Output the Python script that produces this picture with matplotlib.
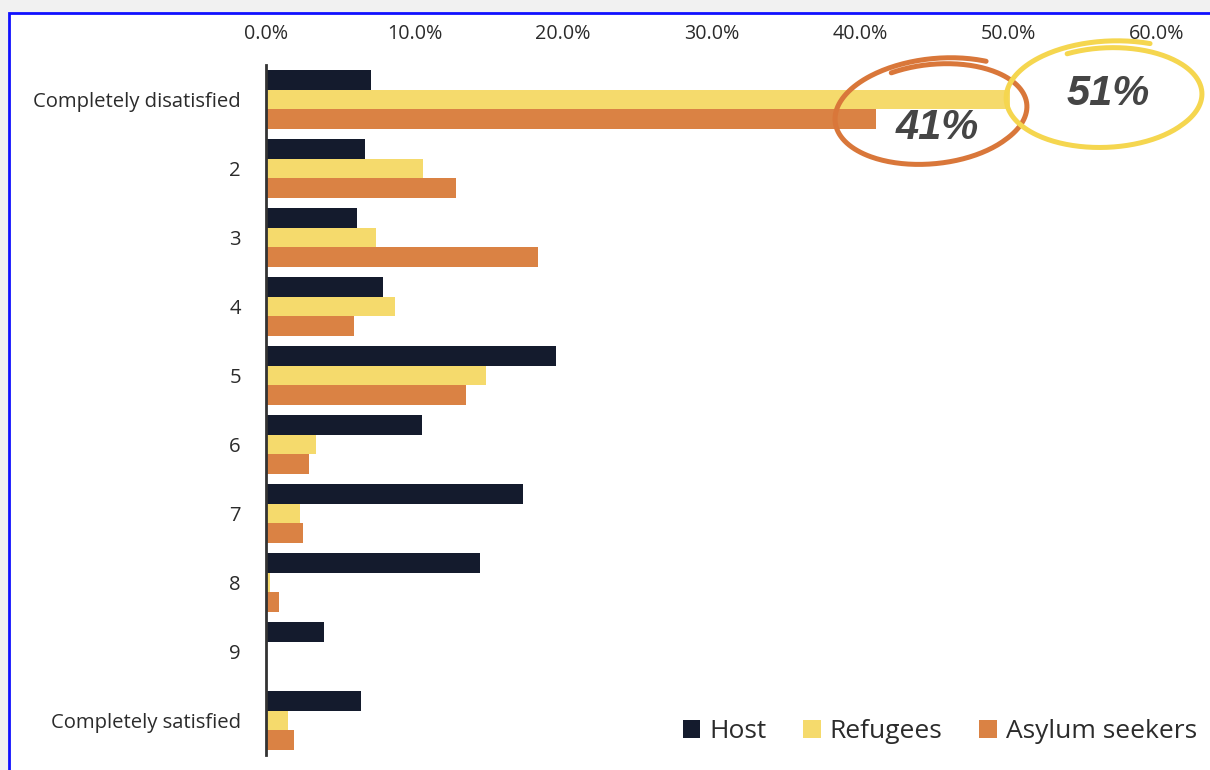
import numpy as np
import matplotlib.pyplot as plt
from matplotlib.patches import Rectangle

plt.rcParams['font.family'] = ['Open Sans', 'DejaVu Sans']

# Data (share of respondents, %)
categories = ['Completely disatisfied', '2', '3', '4', '5', '6', '7', '8', '9',
              'Completely satisfied']
host = [7.1, 6.7, 6.1, 7.9, 19.5, 10.5, 17.3, 14.4, 3.9, 6.4]
refugees = [50.1, 10.6, 7.4, 8.7, 14.8, 3.4, 2.3, 0.3, 0.0, 1.5]
asylum = [41.1, 12.8, 18.3, 5.9, 13.5, 2.9, 2.5, 0.9, 0.0, 1.9]
series_names = ['Host', 'Refugees', 'Asylum seekers']
colors = ['#141b2d', '#f5da6c', '#da8244']
xticks = [0, 10, 20, 30, 40, 50, 60]
callouts = ['41%', '51%']

fig = plt.figure(figsize=(12.1, 7.7), dpi=100, facecolor='#f1f1f1')

# white panel with blue frame
fig.patches.append(Rectangle((9 / 1210, -0.05), 1.1, 1.05 - 13 / 770,
                             transform=fig.transFigure, facecolor='white',
                             edgecolor='#1010ff', linewidth=2, zorder=-10))

ax = fig.add_axes([266 / 1210, 1 - 755 / 770, (1157 - 266) / 1210, (755 - 65) / 770])
ax.set_facecolor('none')

y = np.arange(len(categories))
h = 0.285
for i, (vals, name, c) in enumerate(zip([host, refugees, asylum], series_names, colors)):
    ax.barh(y + (i - 1) * h, vals, height=h, color=c, label=name, zorder=2)

ax.set_xlim(0, 60)
ax.set_ylim(len(categories) - 0.5, -0.5)
ax.set_yticks(y)
ax.set_yticklabels(categories, fontsize=14.6, color='#2b2b2b')
ax.set_xticks(xticks)
ax.set_xticklabels([f'{t:.1f}%' for t in xticks], fontsize=14.2, color='#2b2b2b')
ax.xaxis.tick_top()
ax.tick_params(axis='both', length=0)
ax.tick_params(axis='x', pad=15)
ax.tick_params(axis='y', pad=18)
for s in ['top', 'right', 'bottom']:
    ax.spines[s].set_visible(False)
ax.spines['left'].set_color('#333333')
ax.spines['left'].set_linewidth(2)

# hand-drawn style circles around the two biggest bars
pxx = (1157 - 266) / 60.0   # pixels per x unit
pxy = (755 - 65) / 10.0     # pixels per y unit


def loop(cx, cy, a, b, rot, t0, t1, grow):
    # clockwise loop that overshoots a little at its end
    t = np.linspace(t0, t1, 300)
    r = 1 + grow * np.clip((t0 - t) / (t0 - t1) * 1.6 - 0.6, 0, 1)
    ex = a * r * np.cos(t)
    ey = b * r * np.sin(t)
    c, s = np.cos(rot), np.sin(rot)
    dx = ex * c - ey * s
    dy = ex * s + ey * c
    return cx + dx / pxx, cy - dy / pxy


ox, oy = loop(asylum[0] + 3.9, 0.2, 93, 49, 0.1, 2.0, 2.0 - 2 * np.pi - 1.0, 0.13)
ax.plot(ox, oy, color='#d9773a', lw=3.6, solid_capstyle='round', clip_on=False, zorder=4)
yx, yy = loop(refugees[0] + 6.6, -0.04, 94, 49, 0.04, 2.0, 2.0 - 2 * np.pi - 0.85, 0.15)
ax.plot(yx, yy, color='#f5d64f', lw=3.6, solid_capstyle='round', clip_on=False, zorder=4)

ax.text(asylum[0] + 4.1, 0.42, callouts[0], fontsize=30, fontweight='bold', style='italic',
        family='Liberation Sans', color='#454545', ha='center', va='center', zorder=5)
ax.text(refugees[0] + 6.6, -0.08, callouts[1], fontsize=30, fontweight='bold', style='italic',
        family='Liberation Sans', color='#454545', ha='center', va='center', zorder=5,
        clip_on=False)

fig.legend(loc='center right', bbox_to_anchor=(1197 / 1210, 1 - 732 / 770), ncol=3,
           frameon=False, fontsize=19, handlelength=0.65, handleheight=0.65,
           handletextpad=0.35, columnspacing=1.4, borderpad=0, borderaxespad=0,
           labelcolor='#2b2b2b')

fig.savefig('out.png', dpi=100, facecolor=fig.get_facecolor())
